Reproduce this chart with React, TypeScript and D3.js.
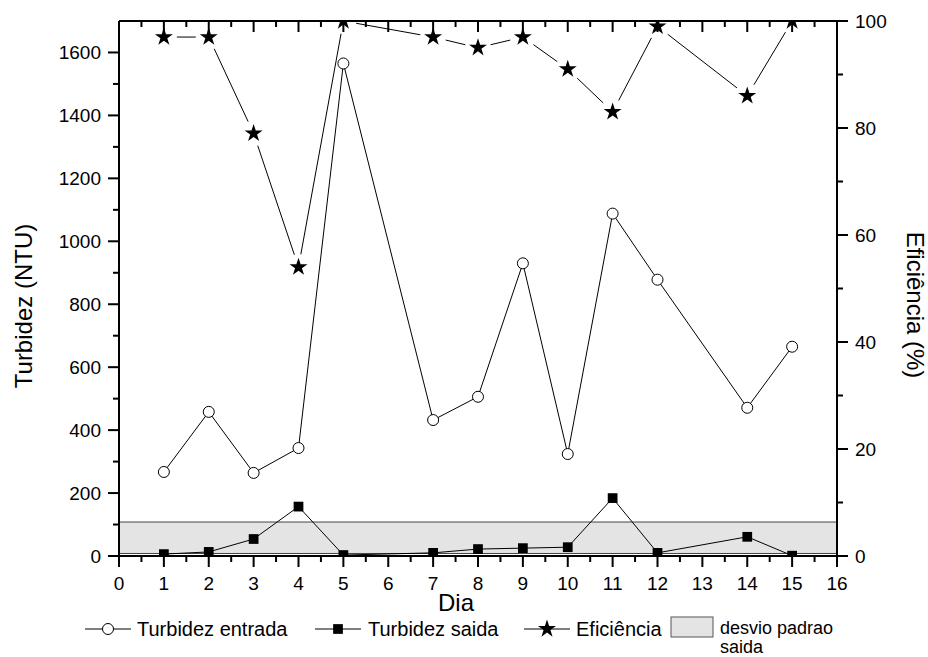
import { scaleLinear, line, symbol, symbolStar, symbolSquare, range } from "d3";

const days = [1, 2, 3, 4, 5, 7, 8, 9, 10, 11, 12, 14, 15];
const turbEntrada = [267, 458, 264, 343, 1565, 432, 506, 930, 324, 1088, 878, 471, 665];
const turbSaida = [6, 13, 54, 157, 3, 10, 22, 25, 28, 184, 10, 61, 1];
const eficiencia = [97, 97, 79, 54, 100, 97, 95, 97, 91, 83, 99, 86, 100];
const desvioSaida = [8, 108];
const xTicks = range(0, 17);
const yLeftTicks = [0, 200, 400, 600, 800, 1000, 1200, 1400, 1600];
const yRightTicks = [0, 20, 40, 60, 80, 100];

const W = 928;
const H = 657;
const left = 119;
const right = 837;
const top = 21;
const bottom = 556;
const FONT = "Arial, 'Liberation Sans', sans-serif";

export default function App() {
  const x = scaleLinear().domain([0, 16]).range([left, right]);
  const yL = scaleLinear().domain([0, 1700]).range([bottom, top]);
  const yR = scaleLinear().domain([0, 100]).range([bottom, top]);

  const entradaPts = days.map((d, i) => [x(d), yL(turbEntrada[i])] as [number, number]);
  const saidaPts = days.map((d, i) => [x(d), yL(turbSaida[i])] as [number, number]);
  const efPts = days.map((d, i) => [x(d), yR(eficiencia[i])] as [number, number]);

  const lineGen = line();
  const starPath = symbol(symbolStar, 100)() || "";
  const squarePath = symbol(symbolSquare, 95)() || "";

  // star line segments stop short of the markers
  const gap = 13;
  const efSegments = efPts.slice(1).map((p, i) => {
    const a = efPts[i];
    const dx = p[0] - a[0];
    const dy = p[1] - a[1];
    const len = Math.hypot(dx, dy);
    if (len <= gap * 2) return null;
    const ux = dx / len;
    const uy = dy / len;
    return [a[0] + ux * gap, a[1] + uy * gap, p[0] - ux * gap, p[1] - uy * gap];
  });

  const minorX = range(0.5, 16, 1);
  const minorL = range(100, 1700, 200);
  const minorR = range(10, 100, 20);

  return (
    <svg
      width={W}
      height={H}
      style={{ position: "absolute", left: 0, top: 0, background: "#fff" }}
      fontFamily={FONT}
    >
      <defs>
        <clipPath id="plot">
          <rect x={left} y={top} width={right - left} height={bottom - top} />
        </clipPath>
      </defs>

      {/* desvio padrao band */}
      <rect
        x={left}
        y={yL(desvioSaida[1])}
        width={right - left}
        height={yL(desvioSaida[0]) - yL(desvioSaida[1])}
        fill="#e4e4e4"
        stroke="#444"
        strokeWidth={1}
      />

      <g clipPath="url(#plot)">
        <path d={lineGen(entradaPts) || ""} fill="none" stroke="#000" strokeWidth={1} />
        <path d={lineGen(saidaPts) || ""} fill="none" stroke="#000" strokeWidth={1} />
        {efSegments.map((s, i) =>
          s ? <line key={i} x1={s[0]} y1={s[1]} x2={s[2]} y2={s[3]} stroke="#000" strokeWidth={1} /> : null
        )}
        {entradaPts.map((p, i) => (
          <circle key={i} cx={p[0]} cy={p[1]} r={5.5} fill="#fff" stroke="#000" strokeWidth={1} />
        ))}
        {saidaPts.map((p, i) => (
          <path key={i} d={squarePath} transform={`translate(${p[0]},${p[1]})`} fill="#000" />
        ))}
        {efPts.map((p, i) => (
          <path key={i} d={starPath} transform={`translate(${p[0]},${p[1]})`} fill="#000" />
        ))}
      </g>

      {/* axes frame */}
      <g stroke="#000" strokeWidth={2} fill="none">
        <line x1={left} y1={top} x2={right} y2={top} />
        <line x1={left} y1={bottom} x2={right} y2={bottom} />
        <line x1={left} y1={top} x2={left} y2={bottom} />
        <line x1={right} y1={top} x2={right} y2={bottom} />
      </g>

      {/* bottom + top ticks */}
      <g stroke="#000" strokeWidth={2}>
        {xTicks.map((t) => (
          <g key={t}>
            <line x1={x(t)} x2={x(t)} y1={bottom} y2={bottom + 11} />
            <line x1={x(t)} x2={x(t)} y1={top} y2={top + 11} />
          </g>
        ))}
        {minorX.map((t) => (
          <g key={t}>
            <line x1={x(t)} x2={x(t)} y1={bottom} y2={bottom + 6} />
            <line x1={x(t)} x2={x(t)} y1={top} y2={top + 6} />
          </g>
        ))}
        {yLeftTicks.map((t) => (
          <line key={t} x1={left - 11} x2={left} y1={yL(t)} y2={yL(t)} />
        ))}
        {minorL.map((t) => (
          <line key={t} x1={left - 6} x2={left} y1={yL(t)} y2={yL(t)} />
        ))}
        {yRightTicks.map((t) => (
          <line key={t} x1={right} x2={right + 11} y1={yR(t)} y2={yR(t)} />
        ))}
        {minorR.map((t) => (
          <line key={t} x1={right} x2={right + 6} y1={yR(t)} y2={yR(t)} />
        ))}
      </g>

      {/* tick labels */}
      <g fontSize={19} fill="#000">
        {xTicks.map((t) => (
          <text key={t} x={x(t)} y={590} textAnchor="middle">
            {t}
          </text>
        ))}
        {yLeftTicks.map((t) => (
          <text key={t} x={left - 18} y={yL(t)} dy="0.35em" textAnchor="end">
            {t}
          </text>
        ))}
        {yRightTicks.map((t) => (
          <text key={t} x={right + 18} y={yR(t)} dy="0.35em" textAnchor="start">
            {t}
          </text>
        ))}
      </g>

      {/* axis titles */}
      <text x={456} y={611} fontSize={24} textAnchor="middle">
        Dia
      </text>
      <text transform="translate(32,306) rotate(-90)" fontSize={24} textAnchor="middle">
        Turbidez (NTU)
      </text>
      <text transform="translate(907,305) rotate(90)" fontSize={24} textAnchor="middle">
        Eficiência (%)
      </text>

      {/* legend */}
      <g fontSize={20}>
        <line x1={85} x2={131} y1={629} y2={629} stroke="#000" strokeWidth={1} />
        <circle cx={108} cy={629} r={5.5} fill="#fff" stroke="#000" strokeWidth={1} />
        <text x={137} y={636}>Turbidez entrada</text>

        <line x1={315} x2={361} y1={629} y2={629} stroke="#000" strokeWidth={1} />
        <path d={squarePath} transform="translate(338,629)" fill="#000" />
        <text x={368} y={636}>Turbidez saida</text>

        <line x1={524} x2={570} y1={629} y2={629} stroke="#000" strokeWidth={1} />
        <path d={starPath} transform="translate(547,629)" fill="#000" />
        <text x={576} y={636}>Eficiência</text>

        <rect x={671} y={617} width={42} height={20} fill="#e4e4e4" stroke="#555" strokeWidth={1} />
        <text x={720} y={634} fontSize={18}>
          desvio padrao
        </text>
        <text x={720} y={653} fontSize={18}>
          saida
        </text>
      </g>
    </svg>
  );
}
